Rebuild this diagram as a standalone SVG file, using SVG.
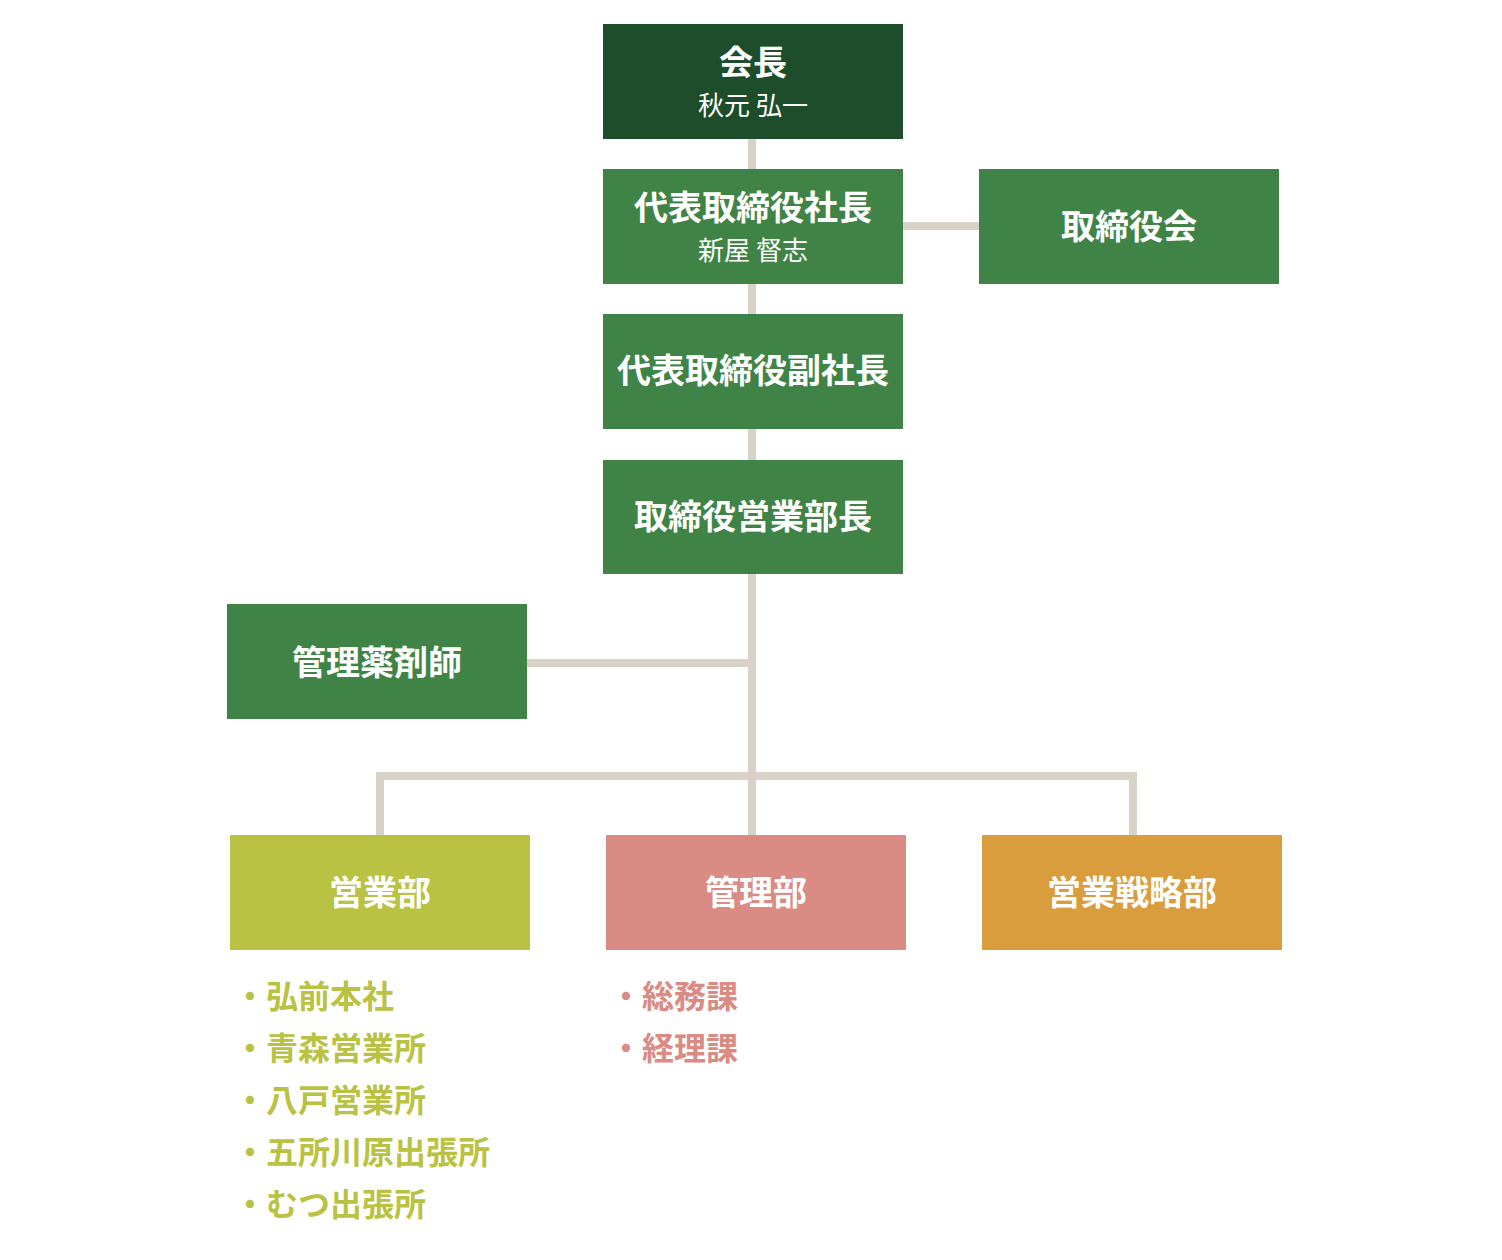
<svg xmlns="http://www.w3.org/2000/svg" width="1502" height="1260" viewBox="0 0 1502 1260">
<style>
text{font-family:"Noto Sans CJK JP","Noto Sans",sans-serif;text-anchor:middle}
.t{fill:#fff;font-size:34px;font-weight:bold}
.s{fill:#fff;font-size:26px}
.c{stroke:#d9d3c7;stroke-width:8;fill:none}
.l{font-size:32px;font-weight:bold;text-anchor:start}
.g{fill:#b9c243}.p{fill:#d98b84}
</style>
<rect width="1502" height="1260" fill="#fff"/>
<g id="connectors">
<path class="c" d="M752 139V835M903 226H979M527 663H752M380 835V776H1133V835"/>
</g>
<g id="n1"><rect x="603" y="24" width="300" height="115" fill="#1e4d2b"/><text class="t" x="753" y="75">会長</text><text class="s" x="753" y="115">秋元 弘一</text></g>
<g id="n2"><rect x="603" y="169" width="300" height="115" fill="#3f8446"/><text class="t" x="753" y="220">代表取締役社長</text><text class="s" x="753" y="260">新屋 督志</text></g>
<g id="n3"><rect x="979" y="169" width="300" height="115" fill="#3f8446"/><text class="t" x="1129" y="239">取締役会</text></g>
<g id="n4"><rect x="603" y="314" width="300" height="115" fill="#3f8446"/><text class="t" x="753" y="383">代表取締役副社長</text></g>
<g id="n5"><rect x="603" y="460" width="300" height="114" fill="#3f8446"/><text class="t" x="753" y="529">取締役営業部長</text></g>
<g id="n6"><rect x="227" y="604" width="300" height="115" fill="#3f8446"/><text class="t" x="377" y="675">管理薬剤師</text></g>
<g id="n7"><rect x="230" y="835" width="300" height="115" fill="#b9c243"/><text class="t" x="380" y="905">営業部</text></g>
<g id="n8"><rect x="606" y="835" width="300" height="115" fill="#d98b84"/><text class="t" x="756" y="905">管理部</text></g>
<g id="n9"><rect x="982" y="835" width="300" height="115" fill="#d99d3e"/><text class="t" x="1132" y="905">営業戦略部</text></g>
<g id="list1" class="g">
<text class="l" x="234" y="1008">・弘前本社</text>
<text class="l" x="234" y="1060">・青森営業所</text>
<text class="l" x="234" y="1112">・八戸営業所</text>
<text class="l" x="234" y="1164">・五所川原出張所</text>
<text class="l" x="234" y="1216">・むつ出張所</text>
</g>
<g id="list2" class="p">
<text class="l" x="610" y="1008">・総務課</text>
<text class="l" x="610" y="1060">・経理課</text>
</g>
</svg>
